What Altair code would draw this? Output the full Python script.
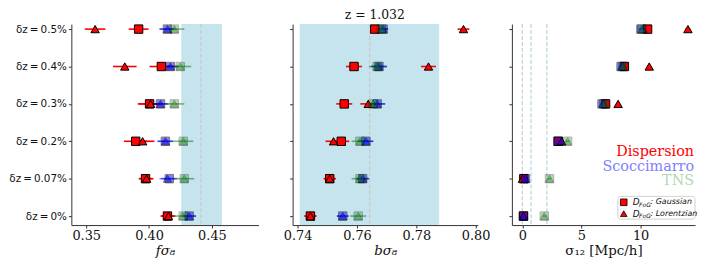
import altair as alt
import pandas as pd

ROW_LABELS = ["δz\u2009=\u20090%", "δz\u2009=\u20090.07%", "δz\u2009=\u20090.2%",
              "δz\u2009=\u20090.3%", "δz\u2009=\u20090.4%", "δz\u2009=\u20090.5%"]
ROW_POS = [0, 1, 2, 3, 4, 5]

MODELS = ["Dispersion", "Scoccimarro", "TNS"]
MODEL_COLORS = ["#ff0000", "#0000ff", "#008000"]
MODEL_OPACITY = [1.0, 0.5, 0.3]
LEGEND_TEXT_COLORS = ["#ff0000", "#8080ff", "#b2d8b2"]
FOGS = ["Gaussian", "Lorentzian"]
FOG_SHAPES = ["square", "triangle-up"]

# ---- f sigma8 ----
fs8_disp_gauss = [0.4146, 0.3972, 0.3894, 0.4004, 0.4098, 0.3917]
fs8_disp_gauss_err = [0.0055, 0.0055, 0.0094, 0.0094, 0.0094, 0.0079]
fs8_disp_lor = [0.4154, 0.3980, 0.3949, 0.4012, 0.3807, 0.3571]
fs8_disp_lor_err = [0.0055, 0.0055, 0.0094, 0.0094, 0.0094, 0.0082]
fs8_scocc_gauss = [0.4319, 0.4161, 0.4130, 0.4091, 0.4169, 0.4146]
fs8_scocc_lor = [0.4319, 0.4146, 0.4130, 0.4091, 0.4169, 0.4146]
fs8_scocc_err = [0.0055, 0.0063, 0.0063, 0.0063, 0.0063, 0.0063]
fs8_tns_gauss = [0.4272, 0.4280, 0.4272, 0.4201, 0.4248, 0.4201]
fs8_tns_lor = [0.4267, 0.4280, 0.4272, 0.4201, 0.4248, 0.4201]
fs8_tns_err = [0.0071, 0.0079, 0.0079, 0.0079, 0.0087, 0.0079]
fs8_band = [0.4256, 0.4579]
fs8_truth = [0.4413]

# ---- b sigma8 ----
bs8_disp_gauss = [0.7443, 0.7508, 0.7547, 0.7557, 0.7590, 0.7660]
bs8_disp_gauss_err = [0.0020, 0.0020, 0.0027, 0.0027, 0.0027, 0.0013]
bs8_disp_lor = [0.7443, 0.7508, 0.7521, 0.7638, 0.7841, 0.7959]
bs8_disp_lor_err = [0.0020, 0.0020, 0.0027, 0.0027, 0.0025, 0.0020]
bs8_scocc_gauss = [0.7552, 0.7619, 0.7630, 0.7668, 0.7674, 0.7688]
bs8_scocc_lor = [0.7552, 0.7619, 0.7630, 0.7668, 0.7674, 0.7688]
bs8_scocc_err = [0.0020, 0.0022, 0.0025, 0.0027, 0.0027, 0.0017]
bs8_tns_gauss = [0.7604, 0.7610, 0.7610, 0.7654, 0.7668, 0.7682]
bs8_tns_lor = [0.7604, 0.7610, 0.7610, 0.7654, 0.7668, 0.7682]
bs8_tns_err = [0.0027, 0.0028, 0.0028, 0.0028, 0.0028, 0.0020]
bs8_band = [0.7407, 0.7877]
bs8_truth = [0.7643]

# ---- sigma12 ----
s12_disp_gauss = [0.10, 0.13, 3.05, 7.04, 8.63, 10.59]
s12_disp_lor = [0.10, 0.02, 3.33, 8.10, 10.73, 14.00]
s12_scocc_gauss = [0.10, 0.27, 3.00, 6.74, 8.35, 10.03]
s12_scocc_lor = [0.10, 0.27, 3.30, 6.80, 8.40, 10.20]
s12_tns_gauss = [1.86, 2.30, 3.83, 6.90, 8.50, 10.10]
s12_tns_lor = [1.86, 2.30, 3.83, 6.90, 8.50, 10.10]
s12_err = [0.12, 0.12, 0.15, 0.15, 0.15, 0.20]
s12_vlines = [0.0, 0.74, 2.08]

TITLE = "z = 1.032"
XTITLES = ["fσ₈", "bσ₈", "σ₁₂ [Mpc/h]"]

H = 203
YDOM = [-0.2406, 5.1337]
AXC = "#333333"


def make_df(series):
    recs = []
    for model, fog, vals, errs in series:
        for r, v, e in zip(ROW_POS, vals, errs):
            recs.append(dict(model=model, fog=fog, row=r, val=v, lo=v - e, hi=v + e))
    return pd.DataFrame(recs)


def panel(df, xdomain, xticks, xfmt, xtitle, width, first, band=None,
          vlines=None, vcolor="#c8c8c8", title_italic=True):
    xaxis = alt.Axis(values=xticks, format=xfmt, title=xtitle, grid=False,
                     tickSize=3, labelPadding=2, labelFont="DejaVu Serif",
                     labelFontSize=13, titleFont="DejaVu Serif", titleFontSize=13.5,
                     titleFontWeight="normal",
                     titleFontStyle="italic" if title_italic else "normal",
                     titlePadding=1, domainColor=AXC, tickColor=AXC,
                     labelColor="#111111", titleColor="#111111")
    xs = alt.Scale(domain=xdomain, nice=False, zero=False)
    if first:
        expr = "[" + ",".join("'" + l + "'" for l in ROW_LABELS) + "][datum.value]"
        yaxis = alt.Axis(values=ROW_POS, labelExpr=expr, title=None, grid=False,
                         tickSize=3, labelPadding=2, labelFont="DejaVu Sans",
                         labelFontSize=10.5, labelColor="#111111",
                         domainColor=AXC, tickColor=AXC)
    else:
        yaxis = alt.Axis(values=ROW_POS, labels=False, title=None, grid=False,
                         tickSize=3, domainColor=AXC, tickColor=AXC)
    ys = alt.Scale(domain=YDOM, nice=False, zero=False)

    def X(f):
        return alt.X(f, type="quantitative", scale=xs, axis=xaxis)

    def Y():
        return alt.Y("row:Q", scale=ys, axis=yaxis)

    layers = []
    if band is not None:
        bdf = pd.DataFrame({"lo": [band[0]], "hi": [band[1]]})
        layers.append(alt.Chart(bdf).mark_rect(color="#add8e6", opacity=0.7).encode(
            x=X("lo"), x2="hi", y=alt.value(0), y2=alt.value(H)))
    if vlines is not None:
        vdf = pd.DataFrame({"v": vlines})
        layers.append(alt.Chart(vdf).mark_rule(color=vcolor, strokeWidth=1.2,
                                               strokeDash=[4, 2]).encode(
            x=X("v"), y=alt.value(0), y2=alt.value(H)))
    for m, c, op in zip(MODELS, MODEL_COLORS, MODEL_OPACITY):
        sub = df[df.model == m]
        layers.append(alt.Chart(sub).mark_rule(color=c, opacity=op, strokeWidth=1.6).encode(
            x=X("lo"), x2="hi", y=Y()))
    for m, c, op in zip(MODELS, MODEL_COLORS, MODEL_OPACITY):
        sub = df[df.model == m]
        layers.append(alt.Chart(sub).mark_point(filled=True, fill=c, stroke="black",
                                                strokeWidth=1, opacity=op, size=72).encode(
            x=X("val"), y=Y(),
            shape=alt.Shape("fog:N", scale=alt.Scale(domain=FOGS, range=FOG_SHAPES),
                            legend=None)))
    return layers


df1 = make_df([
    ("Dispersion", "Gaussian", fs8_disp_gauss, fs8_disp_gauss_err),
    ("Dispersion", "Lorentzian", fs8_disp_lor, fs8_disp_lor_err),
    ("Scoccimarro", "Gaussian", fs8_scocc_gauss, fs8_scocc_err),
    ("Scoccimarro", "Lorentzian", fs8_scocc_lor, fs8_scocc_err),
    ("TNS", "Gaussian", fs8_tns_gauss, fs8_tns_err),
    ("TNS", "Lorentzian", fs8_tns_lor, fs8_tns_err),
])
df2 = make_df([
    ("Dispersion", "Gaussian", bs8_disp_gauss, bs8_disp_gauss_err),
    ("Dispersion", "Lorentzian", bs8_disp_lor, bs8_disp_lor_err),
    ("Scoccimarro", "Gaussian", bs8_scocc_gauss, bs8_scocc_err),
    ("Scoccimarro", "Lorentzian", bs8_scocc_lor, bs8_scocc_err),
    ("TNS", "Gaussian", bs8_tns_gauss, bs8_tns_err),
    ("TNS", "Lorentzian", bs8_tns_lor, bs8_tns_err),
])
df3 = make_df([
    ("Dispersion", "Gaussian", s12_disp_gauss, s12_err),
    ("Dispersion", "Lorentzian", s12_disp_lor, s12_err),
    ("Scoccimarro", "Gaussian", s12_scocc_gauss, s12_err),
    ("Scoccimarro", "Lorentzian", s12_scocc_lor, s12_err),
    ("TNS", "Gaussian", s12_tns_gauss, s12_err),
    ("TNS", "Lorentzian", s12_tns_lor, s12_err),
])

W1, W2, W3 = 189, 187, 185

l1 = panel(df1, [0.3382, 0.4870], [0.35, 0.40, 0.45], ".2f", XTITLES[0], W1, True,
           band=fs8_band, vlines=fs8_truth)
p1 = alt.layer(*l1).properties(width=W1, height=H)

l2 = panel(df2, [0.7383, 0.8007], [0.74, 0.76, 0.78, 0.80], ".2f", XTITLES[1], W2, False,
           band=bs8_band, vlines=bs8_truth)
tdf = pd.DataFrame({"t": [TITLE]})
l2.append(alt.Chart(tdf).mark_text(font="DejaVu Serif", fontSize=12.5, align="center",
                                   baseline="alphabetic", color="#111111").encode(
    text="t:N", x=alt.value(83), y=alt.value(-5)))
p2 = alt.layer(*l2).properties(width=W2, height=H)

l3 = panel(df3, [-0.88, 14.6], [0, 5, 10], "d", XTITLES[2], W3, False,
           vlines=s12_vlines, vcolor="#b9d3dc", title_italic=False)
# model legend text
for i, (m, c) in enumerate(zip(MODELS, LEGEND_TEXT_COLORS)):
    ldf = pd.DataFrame({"t": [m]})
    l3.append(alt.Chart(ldf).mark_text(font="DejaVu Serif", fontSize=14.5, align="right",
                                       baseline="middle", color=c).encode(
        text="t:N", x=alt.value(W3 - 1), y=alt.value(129 + 15 * i)))
# fog legend box
box = pd.DataFrame({"a": [0]})
l3.append(alt.Chart(box).mark_rect(fill="white", stroke="#cccccc", strokeWidth=1,
                                   cornerRadius=3, opacity=0.9).encode(
    x=alt.value(107), x2=alt.value(W3), y=alt.value(174), y2=alt.value(197)))
for j, (fg, shp) in enumerate(zip(FOGS, FOG_SHAPES)):
    yy = 180 + 11.5 * j
    l3.append(alt.Chart(box).mark_point(shape=shp, filled=True, fill="#ff0000",
                                        stroke="black", strokeWidth=0.8, opacity=1,
                                        size=45).encode(
        x=alt.value(113), y=alt.value(yy)))
    l3.append(alt.Chart(pd.DataFrame({"t": ["D"]})).mark_text(
        font="DejaVu Sans", fontSize=9, fontStyle="italic", align="left",
        baseline="middle", color="#111111").encode(text="t:N", x=alt.value(122), y=alt.value(yy)))
    l3.append(alt.Chart(pd.DataFrame({"t": ["FoG"]})).mark_text(
        font="DejaVu Sans", fontSize=6, fontStyle="italic", align="left",
        baseline="middle", color="#111111").encode(text="t:N", x=alt.value(128.5), y=alt.value(yy + 2.5)))
    l3.append(alt.Chart(pd.DataFrame({"t": [": " + fg]})).mark_text(
        font="DejaVu Sans", fontSize=8, fontStyle="italic", align="left",
        baseline="middle", color="#111111").encode(text="t:N", x=alt.value(140), y=alt.value(yy)))
p3 = alt.layer(*l3).properties(width=W3, height=H)

chart = alt.hconcat(p1, p2, p3, spacing=34.5, bounds="flush", padding=0).configure_view(
    stroke=None).properties(background="white")

chart.save("out.html", embed_options={"renderer": "svg", "actions": False})
